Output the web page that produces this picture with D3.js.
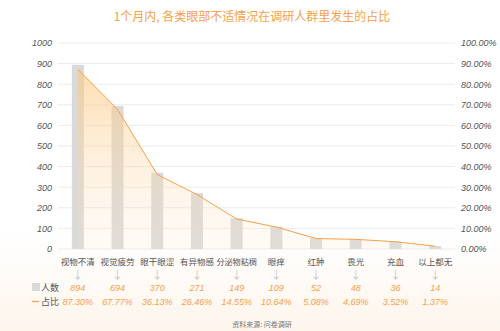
<!DOCTYPE html>
<html><head><meta charset="utf-8">
<script src="https://cdn.jsdelivr.net/npm/d3@7"></script>
<style>body{margin:0;background:#fff}svg{display:block;font-family:"Noto Sans CJK SC","Noto Sans",sans-serif}</style>
</head><body>
<svg id="c" width="500" height="331"></svg>
<script>
const categories = ["视物不清","视觉疲劳","眼干眼涩","有异物感","分泌物粘稠","眼痒","红肿","畏光","充血","以上都无"];
const counts = [894,694,370,271,149,109,52,48,36,14];
const shares = [87.30,67.77,36.13,26.46,14.55,10.64,5.08,4.69,3.52,1.37];
const leftTicks = [0,100,200,300,400,500,600,700,800,900,1000];
const rightTicks = [0,10,20,30,40,50,60,70,80,90,100];
const title = "1个月内, 各类眼部不适情况在调研人群里发生的占比";
const source = "资料来源: 问卷调研";

const svg = d3.select("#c");
const defs = svg.append("defs");
const bg = defs.append("linearGradient").attr("id","bg").attr("x1",0).attr("y1",0).attr("x2",0).attr("y2",1);
bg.append("stop").attr("offset","0").attr("stop-color","#ffffff");
bg.append("stop").attr("offset","0.7").attr("stop-color","#ffffff");
bg.append("stop").attr("offset","1").attr("stop-color","#fdf5ec");
svg.append("rect").attr("width",500).attr("height",331).attr("fill","url(#bg)");

const ag = defs.append("linearGradient").attr("id","ag").attr("x1",0).attr("y1",0).attr("x2",0).attr("y2",1);
ag.append("stop").attr("offset","0").attr("stop-color","#fbc67a").attr("stop-opacity",0.6);
ag.append("stop").attr("offset","1").attr("stop-color","#fde6c8").attr("stop-opacity",0.15);

const L = 58, R = 455, T = 43, B = 249;
const x = d3.scaleBand().domain(categories).range([L,R]);
const yL = d3.scaleLinear().domain([0,1000]).range([B,T]);
const yR = d3.scaleLinear().domain([0,100]).range([B,T]);

svg.append("text").attr("x",252).attr("y",21).attr("text-anchor","middle")
  .attr("font-size",12).attr("fill","#f5a04c").text(title);

// grid
svg.append("g").selectAll("line").data(leftTicks).join("line")
  .attr("x1",L).attr("x2",R).attr("y1",d=>yL(d)).attr("y2",d=>yL(d))
  .attr("stroke","#ececec").attr("stroke-width",1);

// left axis
const la = svg.append("g").attr("transform",`translate(${L},0)`)
  .call(d3.axisLeft(yL).tickValues(leftTicks).tickSize(0).tickPadding(6).tickFormat(d3.format("d")));
la.select(".domain").remove();
la.selectAll("text").attr("font-size",9).attr("font-style","italic").attr("fill","#555")
  .attr("font-family","Liberation Sans, Arial, sans-serif");

// right axis
const ra = svg.append("g").attr("transform",`translate(${R},0)`)
  .call(d3.axisRight(yR).tickValues(rightTicks).tickSize(0).tickPadding(6).tickFormat(d=>d.toFixed(2)+"%"));
ra.select(".domain").remove();
ra.selectAll("text").attr("font-size",9).attr("font-style","italic").attr("fill","#555")
  .attr("font-family","Liberation Sans, Arial, sans-serif");

// bars
const bw = 12;
svg.append("g").selectAll("rect").data(counts).join("rect")
  .attr("x",(d,i)=>x(categories[i])+x.bandwidth()/2-bw/2)
  .attr("width",bw).attr("y",d=>yL(d)).attr("height",d=>B-yL(d))
  .attr("fill","#d9d9d9");

// area + line
const cx = i => x(categories[i]) + x.bandwidth()/2;
const area = d3.area().x((d,i)=>cx(i)).y0(B).y1(d=>yR(d));
svg.append("path").datum(shares).attr("d",area).attr("fill","url(#ag)");
const line = d3.line().x((d,i)=>cx(i)).y(d=>yR(d));
svg.append("path").datum(shares).attr("d",line).attr("fill","none").attr("stroke","#f5a04c").attr("stroke-width",1);

// category labels
svg.append("g").selectAll("text").data(categories).join("text")
  .attr("x",(d,i)=>cx(i)).attr("y",265).attr("text-anchor","middle")
  .attr("font-size",d=>d.length>4?8.1:8.5).attr("fill","#555").text(d=>d);

// arrows
svg.append("g").selectAll("text").data(categories).join("text")
  .attr("x",(d,i)=>cx(i)).attr("y",279).attr("text-anchor","middle")
  .attr("font-size",11).attr("fill","#c8c8c8").text("↓");

// counts row
svg.append("g").selectAll("text").data(counts).join("text")
  .attr("x",(d,i)=>cx(i)).attr("y",291).attr("text-anchor","middle")
  .attr("font-size",9).attr("font-style","italic").attr("fill","#f5a04c")
  .attr("font-family","Liberation Sans, Arial, sans-serif").text(d=>d);
svg.append("g").selectAll("text").data(shares).join("text")
  .attr("x",(d,i)=>cx(i)).attr("y",305).attr("text-anchor","middle")
  .attr("font-size",9).attr("font-style","italic").attr("fill","#f5a04c")
  .attr("font-family","Liberation Sans, Arial, sans-serif").text(d=>d.toFixed(2)+"%");

// legend
svg.append("rect").attr("x",32).attr("y",283).attr("width",8).attr("height",8).attr("fill","#d9d9d9");
svg.append("text").attr("x",41).attr("y",291).attr("font-size",9).attr("fill","#555").text("人数");
svg.append("line").attr("x1",32).attr("x2",39).attr("y1",301.5).attr("y2",301.5).attr("stroke","#f5a04c").attr("stroke-width",1.2);
svg.append("text").attr("x",41).attr("y",305).attr("font-size",9).attr("fill","#555").text("占比");

// source
svg.append("text").attr("x",262).attr("y",327).attr("text-anchor","middle")
  .attr("font-size",7).attr("fill","#777").text(source);
</script>
</body></html>
